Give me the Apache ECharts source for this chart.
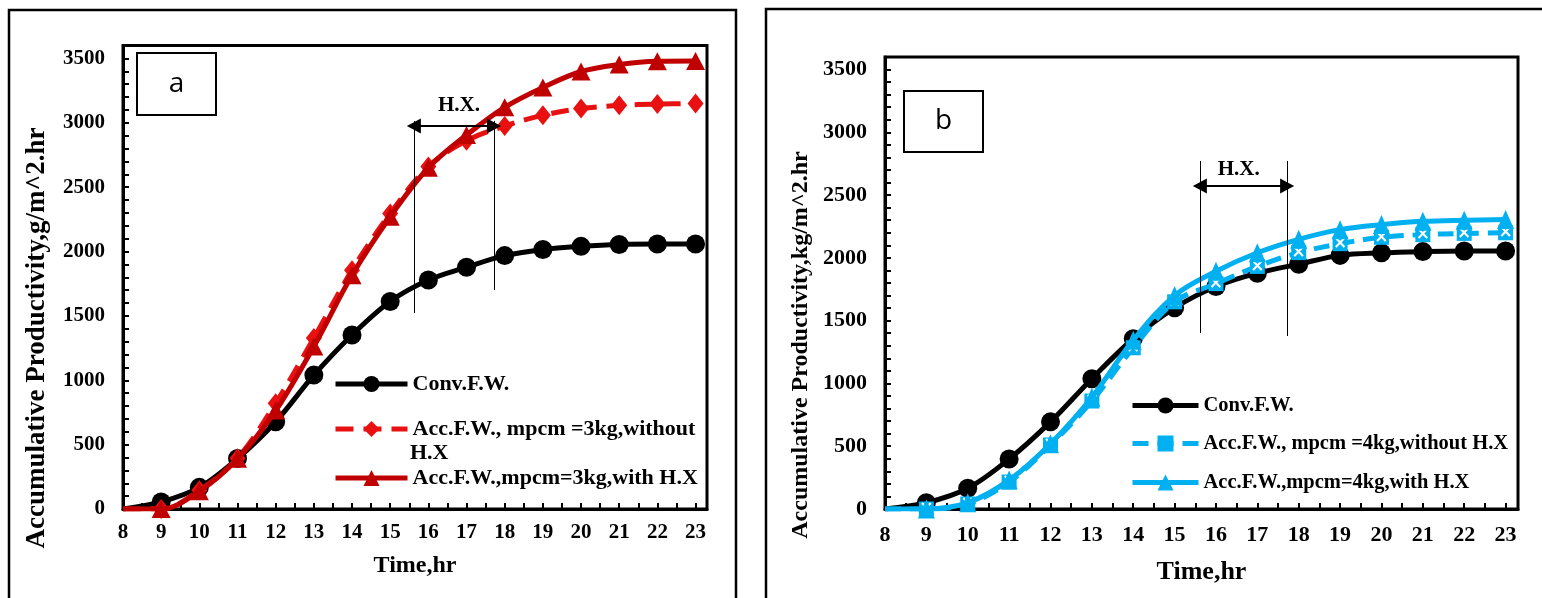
<!DOCTYPE html>
<html><head><meta charset="utf-8">
<script src="https://cdn.jsdelivr.net/npm/echarts@6/dist/echarts.min.js"></script>
<style>html,body{margin:0;padding:0;background:#fff}#c{width:1542px;height:598px}</style>
</head><body><div id="c"></div>
<script>
// ---------- data ----------
const hours = [8,9,10,11,12,13,14,15,16,17,18,19,20,21,22,23];
const convA    = [0,55,168,392,678,1040,1352,1612,1778,1878,1968,2015,2040,2055,2058,2058];
const withoutA = [0,0,145,395,822,1328,1855,2295,2660,2860,2975,3058,3110,3135,3145,3150];
const withA    = [0,0,138,390,765,1262,1815,2270,2650,2905,3120,3274,3398,3453,3478,3480];
const convB    = [0,50,165,398,694,1038,1356,1602,1772,1878,1950,2020,2040,2050,2055,2055];
const withoutB = [0,0,40,215,510,860,1284,1650,1795,1932,2042,2113,2164,2185,2195,2200];
const withB    = [0,0,50,230,520,890,1345,1700,1893,2041,2148,2225,2265,2291,2300,2305];
const xTickLabels = [8,9,10,11,12,13,14,15,16,17,18,19,20,21,22,23];
const xMinorTicks = [8,8.5,9,9.5,10,10.5,11,11.5,12,12.5,13,13.5,14,14.5,15,15.5,16,16.5,17,17.5,18,18.5,19,19.5,20,20.5,21,21.5,22,22.5,23];
const yTickLabels = [0,500,1000,1500,2000,2500,3000,3500];
const yMinorTicks = [0,100,200,300,400,500,600,700,800,900,1000,1100,1200,1300,1400,1500,1600,1700,1800,1900,2000,2100,2200,2300,2400,2500,2600,2700,2800,2900,3000,3100,3200,3300,3400,3500,3600];
// H.X. annotation: [x1, x2, yTop, yBottom1, yBottom2, yArrow, xText, yText]
const hxA = [15.62, 17.72, 3014, 1522, 1701, 2974, 16.8, 3130];
const hxB = [15.61, 17.72, 2772, 1402, 1378, 2572, 16.55, 2700];

const nameConv = 'Conv.F.W.';
const nameWithoutA = 'Acc.F.W., mpcm =3kg,without H.X';
const nameWithA = 'Acc.F.W.,mpcm=3kg,with H.X';
const nameWithoutB = 'Acc.F.W., mpcm =4kg,without H.X';
const nameWithB = 'Acc.F.W.,mpcm=4kg,with H.X';
const yTitleA = 'Accumulative Productivity,g/m^2.hr';
const yTitleB = 'Accumulative Productivity,kg/m^2.hr';

// ---------- styling ----------
const F = 'Liberation Serif';
const RED_DARK = '#C00000', RED = '#E81010', BLUE = '#00B0F0';

function pts(ys){ return hours.map((x,i)=> i===0 ? {value:[x,ys[i]], symbol:'none', label:{show:false}} : [x, ys[i]]); }
function line(name, ys, ai, color, symbol, size, dash, z, extra){
  return Object.assign({
    type:'line', name, xAxisIndex:ai, yAxisIndex:ai, data:pts(ys), smooth:0.35,
    symbol, symbolSize:size, showSymbol:true, showAllSymbol:true, z,
    lineStyle:{color, width:5, type: dash || 'solid'},
    itemStyle:{color}, emphasis:{disabled:true}, animation:false
  }, extra||{});
}
function xAxis(gi, fs, margin, nfs, gap){
  return {gridIndex:gi, type:'value', min:8, max:23.3, interval:1,
    axisLine:{show:true, onZero:false, lineStyle:{color:'#000', width:3}},
    axisTick:{show:true, inside:true, length:6, customValues:xMinorTicks, lineStyle:{color:'#000', width:2}},
    axisLabel:{customValues:xTickLabels, formatter:v=>String(v), color:'#000', fontFamily:F, fontWeight:'bold', fontSize:fs, margin},
    splitLine:{show:false},
    name:'Time,hr', nameLocation:'middle', nameGap:gap,
    nameTextStyle:{color:'#000', fontFamily:F, fontWeight:'bold', fontSize:nfs}};
}
function yAxis(gi, fs, margin){
  return {gridIndex:gi, type:'value', min:0, max:3600, interval:500,
    axisLine:{show:true, lineStyle:{color:'#000', width:3}},
    axisTick:{show:true, inside:true, length:6, customValues:yMinorTicks, lineStyle:{color:'#000', width:2}},
    axisLabel:{customValues:yTickLabels, formatter:v=>String(v), color:'#000', fontFamily:F, fontWeight:'bold', fontSize:fs, margin},
    splitLine:{show:false}};
}
function annot(ai, h){
  return {type:'line', name:'hx'+ai, xAxisIndex:ai, yAxisIndex:ai, data:[], silent:true, z:10,
    markLine:{silent:true, animation:false, symbol:['none','none'], label:{show:false},
      lineStyle:{color:'#000', width:1, type:'solid'},
      data:[
        [{coord:[h[0],h[2]]},{coord:[h[0],h[3]]}],
        [{coord:[h[1],h[2]]},{coord:[h[1],h[4]]}],
        [{coord:[h[0],h[5]], symbol:'triangle', symbolSize:[15,14]},
         {coord:[h[1],h[5]], symbol:'triangle', symbolSize:[15,14], lineStyle:{width:2}}]
      ]},
    markPoint:{silent:true, animation:false, symbol:'rect', symbolSize:1, itemStyle:{color:'rgba(0,0,0,0)'},
      label:{show:true, position:'inside', formatter:'H.X.', color:'#000', fontFamily:F, fontWeight:'bold', fontSize:21},
      data:[{coord:[h[6],h[7]]}]}
  };
}
function lg(name, left, top, iw, fs, fmt){
  return {data:[name], left, top, orient:'vertical', itemWidth:iw, itemHeight:20, padding:0,
    selectedMode:false, lineStyle:{width:5},
    textStyle:{color:'#000', fontFamily:F, fontWeight:'bold', fontSize:fs},
    formatter: fmt || '{name}'};
}

const chart = echarts.init(document.getElementById('c'), null, {renderer:'canvas'});
chart.setOption({
  animation:false,
  backgroundColor:'#fff',
  grid:[
    {left:123, top:45.5, width:584, height:463.5, show:true, borderColor:'#000', borderWidth:3, backgroundColor:'rgba(0,0,0,0)'},
    {left:885, top:57, width:633, height:452, show:true, borderColor:'#000', borderWidth:3, backgroundColor:'rgba(0,0,0,0)'}
  ],
  xAxis:[xAxis(0,21,13,24,45), xAxis(1,22,15,26,50)],
  yAxis:[yAxis(0,21,18), yAxis(1,22,18)],
  legend:[
    lg(nameConv, 333, 373, 72, 22),
    lg(nameWithoutA, 333, 418, 72, 22, ()=> 'Acc.F.W., mpcm =3kg,without'),
    lg(nameWithA, 333, 467, 72, 22),
    lg(nameConv, 1130, 395, 66, 20.5),
    lg(nameWithoutB, 1130, 433, 66, 20.5),
    lg(nameWithB, 1130, 472, 66, 20.5)
  ],
  series:[
    line(nameConv, convA, 0, '#000', 'circle', 19, null, 2),
    line(nameWithoutA, withoutA, 0, RED, 'diamond', [16,20], [18,10], 3),
    line(nameWithA, withA, 0, RED_DARK, 'triangle', [19,18], null, 4),
    line(nameConv, convB, 1, '#000', 'circle', 19, null, 2),
    line(nameWithoutB, withoutB, 1, BLUE, 'rect', 15, [16,9], 3,
      {label:{show:true, position:'inside', formatter:'×', color:'#fff', fontSize:17, fontWeight:'bold', fontFamily:'DejaVu Sans'}}),
    line(nameWithB, withB, 1, BLUE, 'triangle', [17,19], null, 4),
    annot(0, hxA), annot(1, hxB)
  ],
  graphic:[
    {type:'rect', shape:{x:9, y:10, width:727, height:620}, style:{fill:'none', stroke:'#000', lineWidth:2.5}, silent:true, z:-1},
    {type:'rect', shape:{x:766, y:9, width:800, height:620}, style:{fill:'none', stroke:'#000', lineWidth:2.5}, silent:true, z:-1},
    {type:'rect', shape:{x:137, y:53, width:79, height:62}, style:{fill:'#fff', stroke:'#000', lineWidth:2}, silent:true, z:5},
    {type:'text', x:176.5, y:84, style:{text:'a', font:'28px "Open Sans"', fill:'#000', align:'center', verticalAlign:'middle'}, silent:true, z:6},
    {type:'rect', shape:{x:904, y:91, width:79, height:61}, style:{fill:'#fff', stroke:'#000', lineWidth:2}, silent:true, z:5},
    {type:'text', x:943.5, y:121.5, style:{text:'b', font:'28px "Open Sans"', fill:'#000', align:'center', verticalAlign:'middle'}, silent:true, z:6},
    {type:'text', x:37, y:338, rotation:Math.PI/2, style:{text:yTitleA, font:'bold 27px "Liberation Serif"', fill:'#000', align:'center', verticalAlign:'middle'}, silent:true},
    {type:'text', x:801, y:345, rotation:Math.PI/2, style:{text:yTitleB, font:'bold 24px "Liberation Serif"', fill:'#000', align:'center', verticalAlign:'middle'}, silent:true},
    {type:'text', x:410, y:453, style:{text:'H.X', font:'bold 22px "Liberation Serif"', fill:'#000', align:'left', verticalAlign:'middle'}, silent:true}
  ]
});
</script></body></html>
